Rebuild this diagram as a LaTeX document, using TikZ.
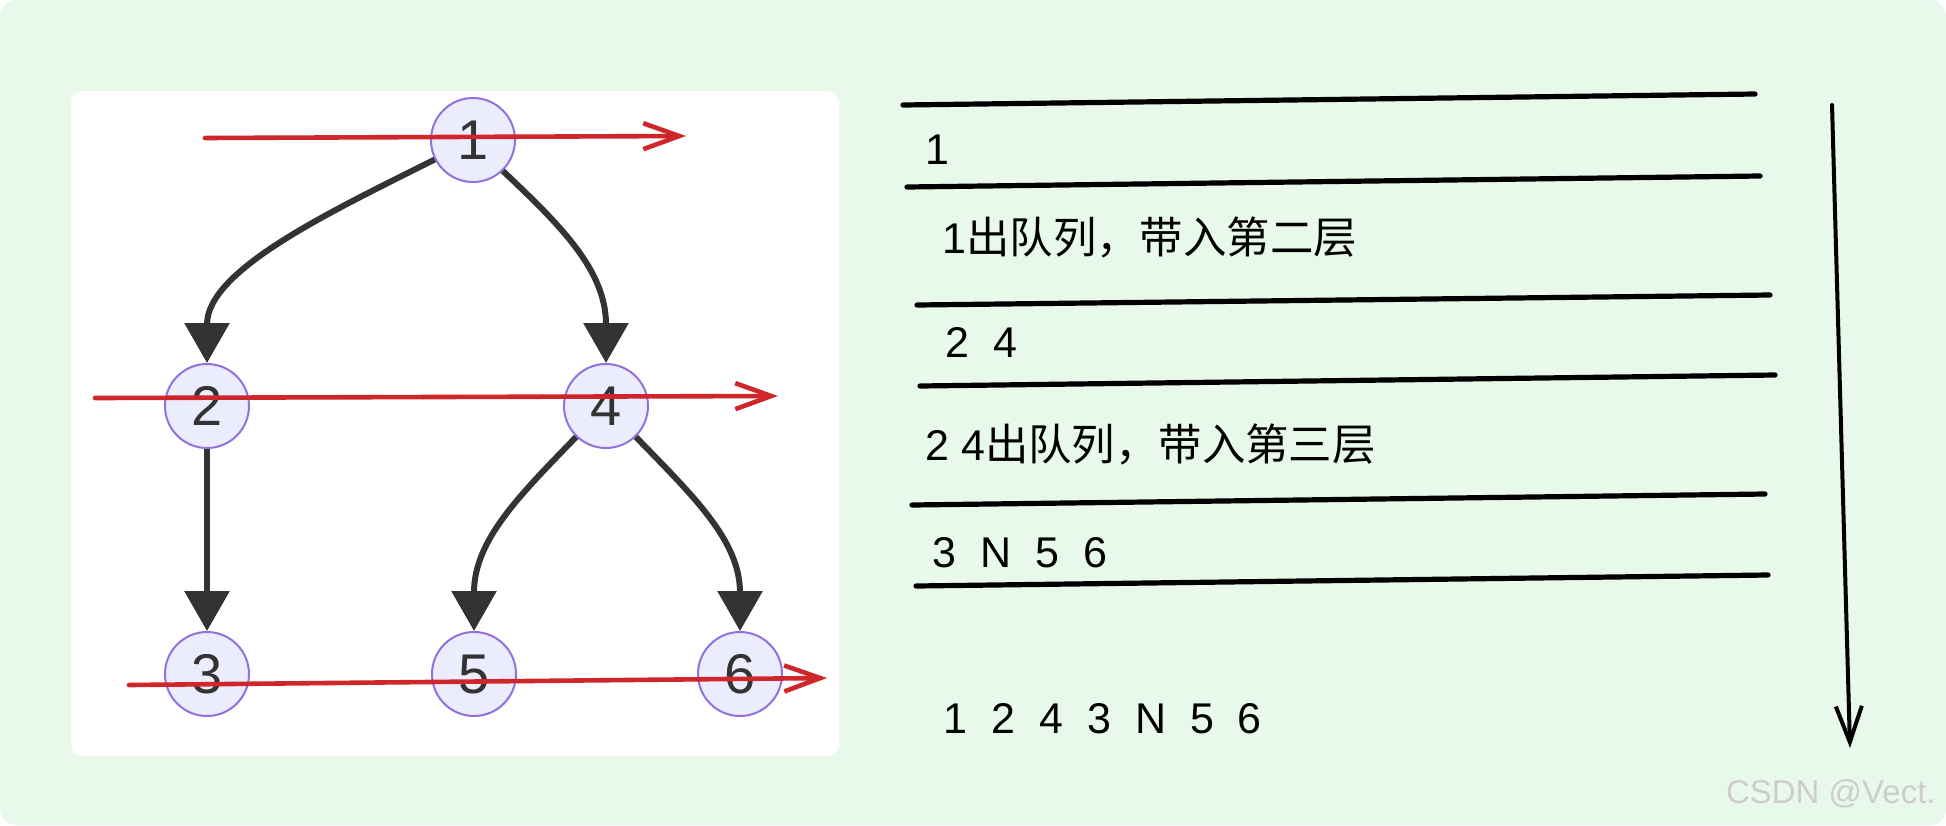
\documentclass[tikz,border=0pt]{standalone}
\usepackage{fontspec}
\setmainfont{Liberation Sans}
\newfontfamily\cjk{Noto Sans CJK SC}
\usetikzlibrary{arrows.meta}
\definecolor{bggreen}{HTML}{E8F9EC}
\definecolor{nodefill}{HTML}{ECECFF}
\definecolor{nodeline}{HTML}{9370DB}
\definecolor{edgecol}{HTML}{333333}
\definecolor{redline}{RGB}{206,38,42}
\definecolor{wmark}{HTML}{CDCDCD}
\newcommand{\qgap}{\hspace{12pt}}
\newcommand{\cj}[1]{{\cjk\fontsize{21.7}{24}\selectfont #1}}
\begin{document}
\begin{tikzpicture}[x=0.5pt,y=-0.5pt,
  treenode/.style={circle, draw=nodeline, fill=nodefill, line width=1pt, minimum size=42pt, inner sep=0pt, font=\fontsize{28}{30}\selectfont, text=edgecol},
  treeedge/.style={draw=edgecol, line width=3pt, -{Triangle[length=20pt,width=22pt]}},
  scanline/.style={draw=redline, line width=2.3pt, line cap=round, -{Straight Barb[length=18pt,width=13pt]}},
  queueline/.style={draw=black, line width=2.6pt, line cap=round},
  downarrow/.style={draw=black, line width=2pt, line cap=round, -{Straight Barb[length=18pt,width=13pt]}},
  qtext/.style={anchor=base west, inner sep=0pt, font=\fontsize{21.5}{24}\selectfont, text=black},
]
\useasboundingbox (0,0) rectangle (1946,825);
\fill[white] (0,0) rectangle (1946,825);
\fill[bggreen, rounded corners=8pt] (0,0) rectangle (1946,825);
\fill[white, rounded corners=6pt] (71,91) rectangle (839,756);

% tree
\node[treenode] (n1) at (473,140) {1};
\node[treenode] (n2) at (207,406) {2};
\node[treenode] (n4) at (606,406) {4};
\node[treenode] (n3) at (207,674) {3};
\node[treenode] (n5) at (474,674) {5};
\node[treenode] (n6) at (740,674) {6};

\draw[treeedge] (n1.207) .. controls (330,212) and (207,270) .. (n2);
\draw[treeedge] (n1.-46) .. controls (560,225) and (606,270) .. (n4);
\draw[treeedge] (n2) -- (n3);
\draw[treeedge] (n4.-134) .. controls (520,495) and (474,540) .. (n5);
\draw[treeedge] (n4.-46) .. controls (692,495) and (740,540) .. (n6);

% red level scans
\coordinate (r1s) at (205,138); \coordinate (r1e) at (686,136);
\coordinate (r2s) at (95,398);  \coordinate (r2e) at (778,396);
\coordinate (r3s) at (129,685); \coordinate (r3e) at (827,678);
\draw[scanline] (r1s) -- (r1e);
\draw[scanline] (r2s) -- (r2e);
\draw[scanline] (r3s) -- (r3e);

% queue lines
\draw[queueline] (903,105) -- (1755,94);
\draw[queueline] (907,187) -- (1760,176);
\draw[queueline] (917,305) -- (1770,295);
\draw[queueline] (920,386) -- (1775,375);
\draw[queueline] (912,505) -- (1765,494);
\draw[queueline] (916,586) -- (1768,575);

% texts
\node[qtext] (t1) at (925,164) {1};
\node[qtext] (t2) at (942,253) {1\cj{出队列，带入第二层}};
\node[qtext] (t3) at (945,357) {2\qgap 4};
\node[qtext] (t4) at (925,460) {2 4\cj{出队列，带入第三层}};
\node[qtext] (t5) at (932,567) {3\qgap N\qgap 5\qgap 6};
\node[qtext] (t6) at (943,733) {1\qgap 2\qgap 4\qgap 3\qgap N\qgap 5\qgap 6};

% down arrow
\coordinate (vs) at (1832,105);
\coordinate (ve) at (1850,748);
\draw[downarrow] (vs) -- (ve);

% watermark
\node[anchor=base east, inner sep=0pt, font=\fontsize{16.5}{18}\selectfont, text=wmark] (wm) at (1936,803) {CSDN @Vect.};
\end{tikzpicture}
\end{document}
